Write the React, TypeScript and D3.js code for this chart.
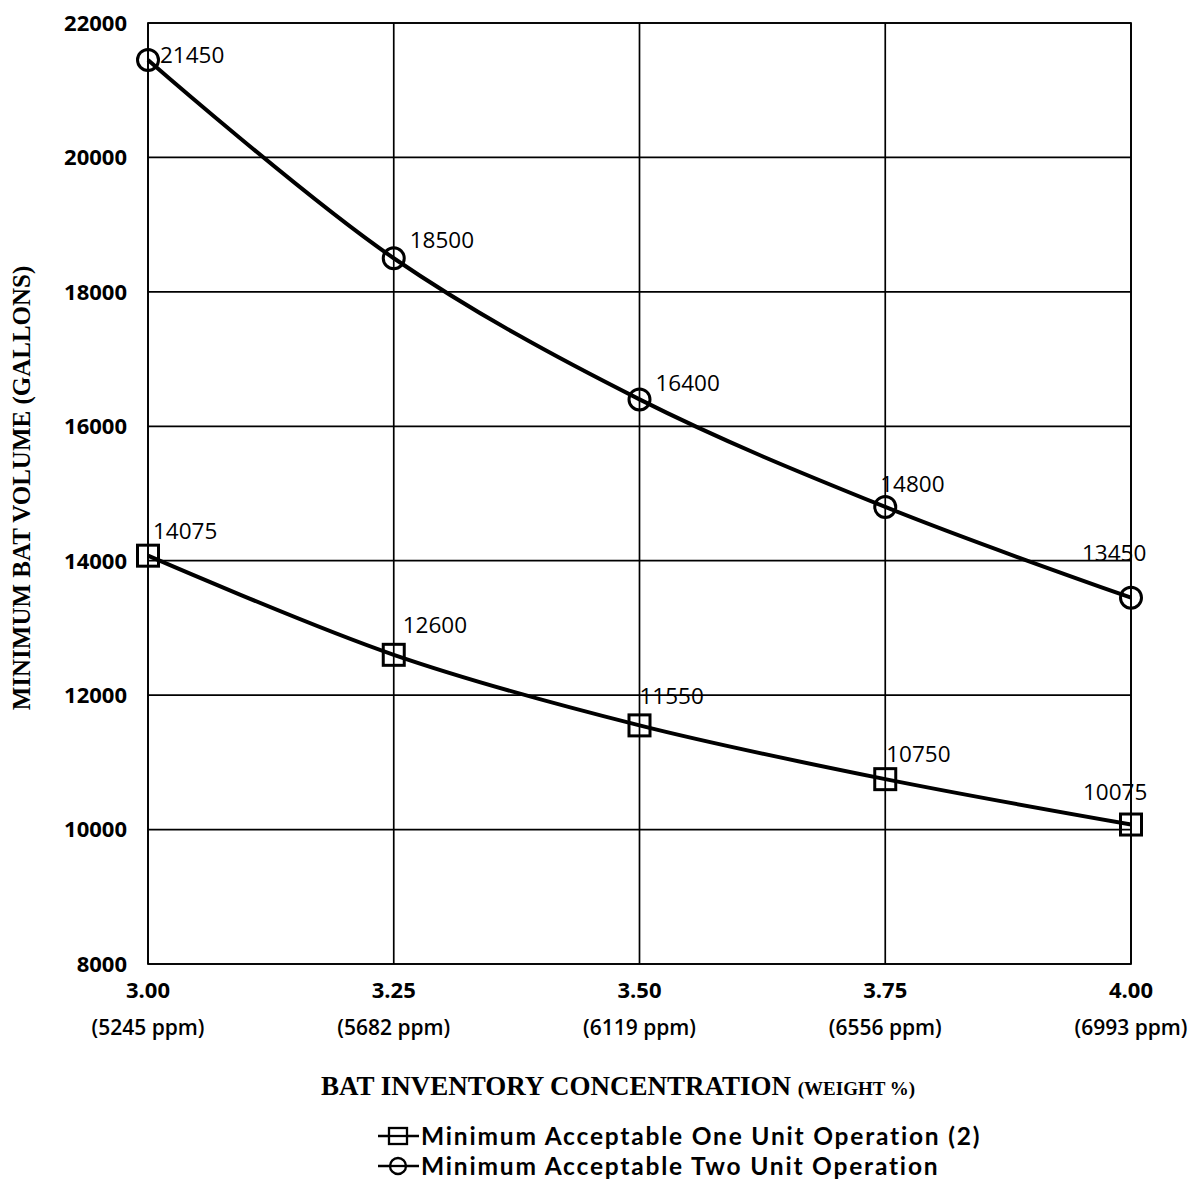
import React from "react";
import * as d3 from "d3";

// Weight % categories and their ppm equivalents
const concentrations = [3.0, 3.25, 3.5, 3.75, 4.0];
const concentrationLabels = ["3.00", "3.25", "3.50", "3.75", "4.00"];
const ppmLabels = ["(5245 ppm)", "(5682 ppm)", "(6119 ppm)", "(6556 ppm)", "(6993 ppm)"];

// Minimum BAT volume (gallons)
const oneUnitValues = [14075, 12600, 11550, 10750, 10075];
const twoUnitValues = [21450, 18500, 16400, 14800, 13450];

const yTicks = [8000, 10000, 12000, 14000, 16000, 18000, 20000, 22000];

const seriesNames = [
  "Minimum Acceptable One Unit Operation (2)",
  "Minimum Acceptable Two Unit Operation",
];

// label placement relative to each marker (dx to text start, dy to baseline)
const oneUnitLabelOffsets: [number, number][] = [[5, -17], [9, -22], [0, -21], [1, -17], [-48, -25]];
const twoUnitLabelOffsets: [number, number][] = [[12, 3], [16, -10], [16, -8], [-5, -15], [-49, -37]];

const W = 1191;
const H = 1190;
const left = 148;
const right = 1131;
const top = 23;
const bottom = 964;

const numFont = "'Open Sans', sans-serif";
const legendFont = "Lato, 'Open Sans', sans-serif";
const serifFont = "'Liberation Serif', 'Times New Roman', serif";

export default function App() {
  const x = d3.scaleLinear().domain([3.0, 4.0]).range([left, right]);
  const y = d3.scaleLinear().domain([8000, 22000]).range([bottom, top]);

  const line = d3
    .line<number>()
    .x((_, i) => x(concentrations[i]))
    .y((d) => y(d))
    .curve(d3.curveCatmullRom.alpha(0.5));

  const sq = 10.5;
  const r = 10.5;

  return (
    <svg width={W} height={H} style={{ display: "block", position: "absolute", left: 0, top: 0, background: "#fff" }}>
      <rect x={0} y={0} width={W} height={H} fill="#fff" />
      {/* horizontal gridlines */}
      {yTicks.map((t) => (
        <line key={"h" + t} x1={left} x2={right} y1={y(t)} y2={y(t)} stroke="#000" strokeWidth={1.7} />
      ))}
      {/* vertical gridlines */}
      {concentrations.map((c) => (
        <line key={"v" + c} x1={x(c)} x2={x(c)} y1={top} y2={bottom} stroke="#000" strokeWidth={1.7} />
      ))}
      <rect x={left} y={top} width={right - left} height={bottom - top} fill="none" stroke="#000" strokeWidth={1.7} />

      {/* y tick labels */}
      {yTicks.map((t) => (
        <text key={"yl" + t} x={127} y={y(t)} dy="0.36em" textAnchor="end" fontFamily={numFont} fontWeight={700} fontSize={22} fill="#000">
          {t}
        </text>
      ))}

      {/* x tick labels */}
      {concentrations.map((c, i) => (
        <g key={"xl" + c}>
          <text x={x(c)} y={998} textAnchor="middle" fontFamily={numFont} fontWeight={700} fontSize={22} fill="#000">
            {concentrationLabels[i]}
          </text>
          <text x={x(c)} y={1035} textAnchor="middle" fontFamily={numFont} fontWeight={600} fontSize={21} fill="#000">
            {ppmLabels[i]}
          </text>
        </g>
      ))}

      {/* series lines */}
      <path d={line(twoUnitValues) || ""} fill="none" stroke="#000" strokeWidth={4} />
      <path d={line(oneUnitValues) || ""} fill="none" stroke="#000" strokeWidth={4} />

      {/* markers */}
      {twoUnitValues.map((v, i) => (
        <circle key={"c" + i} cx={x(concentrations[i])} cy={y(v)} r={r} fill="none" stroke="#000" strokeWidth={3} />
      ))}
      {oneUnitValues.map((v, i) => (
        <rect key={"s" + i} x={x(concentrations[i]) - sq} y={y(v) - sq} width={sq * 2} height={sq * 2} fill="none" stroke="#000" strokeWidth={3} />
      ))}

      {/* data labels */}
      {twoUnitValues.map((v, i) => (
        <text key={"tl" + i} x={x(concentrations[i]) + twoUnitLabelOffsets[i][0]} y={y(v) + twoUnitLabelOffsets[i][1]} fontFamily={numFont} fontWeight={500} fontSize={22.5} fill="#000">
          {v}
        </text>
      ))}
      {oneUnitValues.map((v, i) => (
        <text key={"ol" + i} x={x(concentrations[i]) + oneUnitLabelOffsets[i][0]} y={y(v) + oneUnitLabelOffsets[i][1]} fontFamily={numFont} fontWeight={500} fontSize={22.5} fill="#000">
          {v}
        </text>
      ))}

      {/* axis titles */}
      <text transform={`translate(30, 488) rotate(-90)`} textAnchor="middle" fontFamily={serifFont} fontWeight="bold" fontSize={25} fill="#000">
        MINIMUM BAT VOLUME (GALLONS)
      </text>
      <text x={618} y={1095} textAnchor="middle" fontFamily={serifFont} fontWeight="bold" fontSize={27} fill="#000">
        BAT INVENTORY CONCENTRATION <tspan fontSize={19}>(WEIGHT %)</tspan>
      </text>

      {/* legend */}
      {seriesNames.map((name, i) => {
        const ly = 1136 + i * 30;
        return (
          <g key={"lg" + i}>
            <line x1={378} x2={419} y1={ly} y2={ly} stroke="#000" strokeWidth={2.6} />
            {i === 0 ? (
              <rect x={389} y={ly - 8} width={18} height={16} fill="#fff" stroke="#000" strokeWidth={2.3} />
            ) : (
              <circle cx={398} cy={ly} r={8} fill="#fff" stroke="#000" strokeWidth={2.3} />
            )}
            <line x1={390} x2={406} y1={ly} y2={ly} stroke="#000" strokeWidth={2.3} />
            <text x={421} y={ly} dy="0.36em" fontFamily={legendFont} fontWeight={700} fontSize={24.5} letterSpacing={1.8} fill="#000">
              {name}
            </text>
          </g>
        );
      })}
    </svg>
  );
}
